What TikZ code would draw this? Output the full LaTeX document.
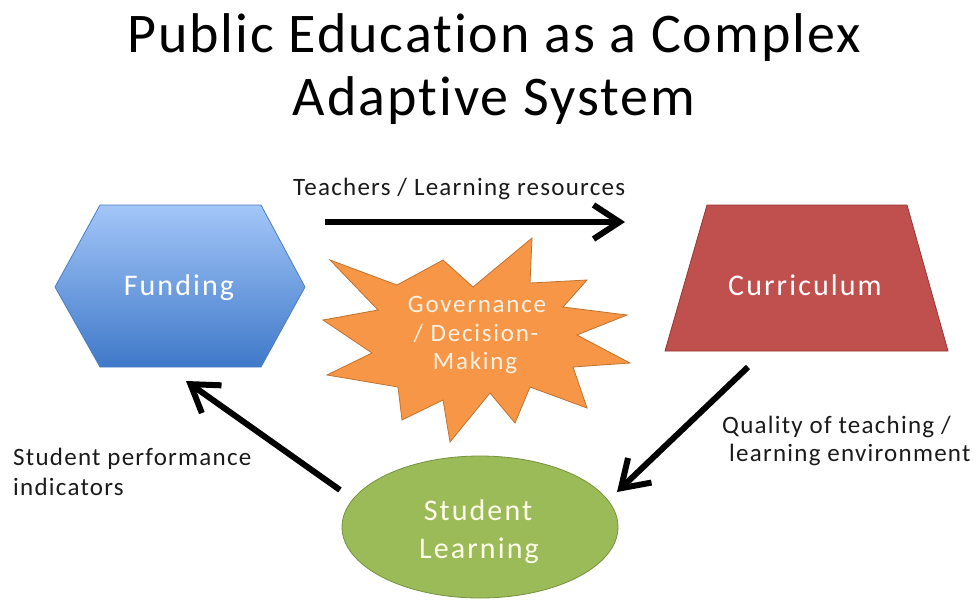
\documentclass[tikz,border=0pt]{standalone}
\usepackage{fontspec}
\setmainfont{Carlito}[Ligatures=NoCommon]
\newfontfamily\titlefnt{Carlito}[Ligatures=NoCommon,LetterSpace=3.5]
\newfontfamily\lblfnt{Carlito}[Ligatures=NoCommon,LetterSpace=5]
\newfontfamily\shpfnt{Carlito}[Ligatures=NoCommon,LetterSpace=7]
\usetikzlibrary{arrows.meta}
\definecolor{hexTop}{HTML}{A3C6F8}
\definecolor{hexBot}{HTML}{3F79C9}
\definecolor{hexLine}{HTML}{4A7EC2}
\definecolor{trapFill}{HTML}{C0504D}
\definecolor{trapLine}{HTML}{943634}
\definecolor{ellFill}{HTML}{9BBB59}
\definecolor{ellLine}{HTML}{76923C}
\definecolor{starFill}{HTML}{F79646}
\definecolor{starLine}{HTML}{C0732F}
\definecolor{txtDark}{HTML}{1A1A1A}
\begin{document}
\begin{tikzpicture}[x=1pt,y=-1pt,
  shapetext/.style={text=white,font=\shpfnt\fontsize{30}{38}\selectfont,anchor=base,inner sep=0pt},
  govtext/.style={text=white!90!orange,font=\shpfnt\fontsize{25}{30}\selectfont,anchor=base,inner sep=0pt},
  lbl/.style={text=txtDark,font=\lblfnt\fontsize{25}{30}\selectfont,anchor=base west,inner sep=0pt},
  ttl/.style={text=black,font=\titlefnt\fontsize{56}{63}\selectfont,anchor=base,inner sep=0pt},
  bigarrow/.style={line width=6pt,-{Straight Barb[length=26pt,width=34pt]}}]
\useasboundingbox (0,0) rectangle (977,600);
% title
\node[ttl] (title1) at (494,52) {Public Education as a Complex};
\node[ttl] (title2) at (494,115) {Adaptive System};
% hexagon
\shade[top color=hexTop,bottom color=hexBot,draw=hexLine,line width=0.8pt]
  (55,287) -- (100,205) -- (261,205) -- (305,287) -- (261,367) -- (100,367) -- cycle;
\node[shapetext] (funding) at (179,295) {Funding};
% trapezoid
\draw[fill=trapFill,draw=trapLine,line width=0.8pt]
  (707,205) -- (907,205) -- (948,351) -- (665,351) -- cycle;
\node[shapetext] (curr) at (805,295) {Curriculum};
% ellipse
\draw[fill=ellFill,draw=ellLine,line width=0.8pt] (480,527) ellipse [x radius=138, y radius=71];
\node[shapetext,text=white!92!yellow] (learn1) at (478,520) {Student};
\node[shapetext,text=white!92!yellow] (learn2) at (479,558) {Learning};
% star
\draw[fill=starFill,draw=starLine,line width=0.8pt]
  (330,260) -- (397,285) -- (443,260) -- (473,287) -- (532,238) -- (530,283)
  -- (587,280) -- (563,307) -- (627,315) -- (577,335) -- (630,363) -- (573,367)
  -- (587,408) -- (530,387) -- (515,423) -- (490,393) -- (450,442) -- (443,400)
  -- (402,420) -- (398,387) -- (327,375) -- (372,353) -- (323,320) -- (378,310) -- cycle;
\node[govtext] (gov1) at (477,312) {Governance};
\node[govtext] (gov2) at (476,341) {/ Decision-};
\node[govtext] (gov3) at (475,369) {Making};
% arrows
\coordinate (a1s) at (325,222);
\coordinate (a1e) at (625,222);
\coordinate (a2s) at (748,367);
\coordinate (a2e) at (617,492);
\coordinate (a3s) at (340,490);
\coordinate (a3e) at (186,381);
\draw[bigarrow] (a1s) -- (a1e);
\draw[bigarrow] (a2s) -- (a2e);
\draw[bigarrow] (a3s) -- (a3e);
% labels
\node[lbl] (l1) at (293,195) {Teachers / Learning resources};
\node[lbl] (l2a) at (13,465) {Student performance};
\node[lbl] (l2b) at (13,495) {indicators};
\node[lbl] (l3a) at (722,433) {Quality of teaching /};
\node[lbl] (l3b) at (729,461) {learning environment};
\end{tikzpicture}
\end{document}
